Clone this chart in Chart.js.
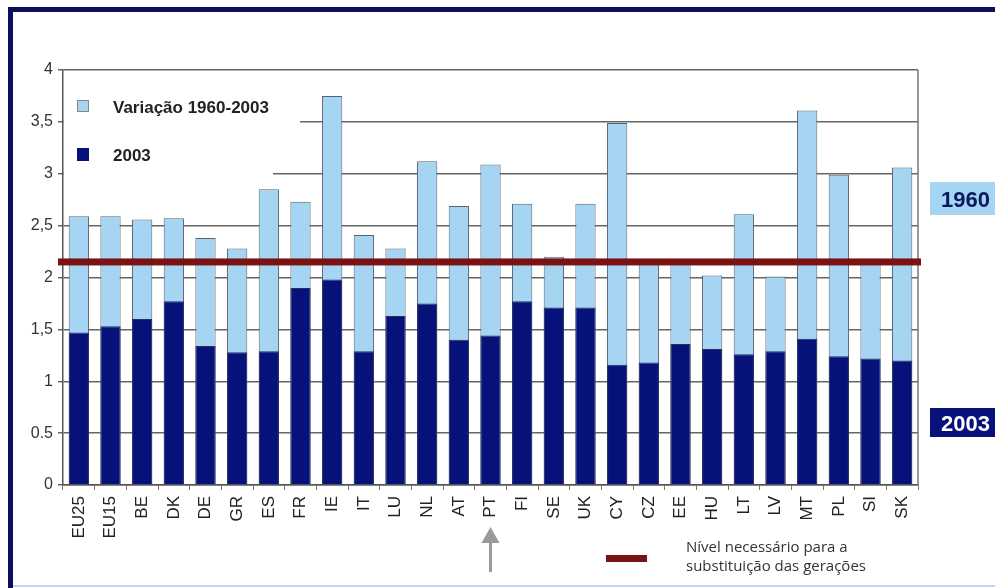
<!DOCTYPE html>
<html>
<head>
<meta charset="utf-8">
<script src="https://cdn.jsdelivr.net/npm/chart.js@4"></script>
<style>
  body { margin: 0; background: #fff; }
  canvas { display: block; }
</style>
</head>
<body>
<canvas id="tfr-chart" width="995" height="588"></canvas>
<script>
// Índice sintético de fecundidade, 1960 e 2003
const countries = ['EU25', 'EU15', 'BE', 'DK', 'DE', 'GR', 'ES', 'FR', 'IE', 'IT', 'LU', 'NL', 'AT', 'PT',
    'FI', 'SE', 'UK', 'CY', 'CZ', 'EE', 'HU', 'LT', 'LV', 'MT', 'PL', 'SI', 'SK'];
const values1960 = [2.59, 2.59, 2.56, 2.57, 2.38, 2.28, 2.85, 2.73, 3.75, 2.41, 2.28, 3.12, 2.69, 3.09,
    2.71, 2.20, 2.71, 3.49, 2.13, 2.13, 2.02, 2.61, 2.01, 3.61, 2.99, 2.18, 3.06];
const values2003 = [1.47, 1.53, 1.60, 1.77, 1.34, 1.28, 1.29, 1.90, 1.98, 1.29, 1.63, 1.75, 1.40, 1.44,
    1.77, 1.71, 1.71, 1.16, 1.18, 1.36, 1.31, 1.26, 1.29, 1.41, 1.24, 1.22, 1.20];
const replacementLevel = 2.15;
const yTickLabels = ['0', '0.5', '1', '1,5', '2', '2,5', '3', '3,5', '4'];

const lightBlue = '#a6d4f3';
const navy = '#06117a';
const darkRed = '#7a1414';
const fontFamily = "'Liberation Sans', Arial, sans-serif";

// moldura, legenda, linha de substituição e rótulos laterais
const decorations = {
    id: 'decorations',
    beforeDraw(chart) {
        const c = chart.ctx;
        c.save();
        c.fillStyle = '#0b0f5c';
        c.fillRect(8, 7, 987, 5);
        c.fillRect(8, 7, 5, 581);
        c.fillStyle = '#c9d0f2';
        c.fillRect(13, 585, 982, 2);
        c.restore();
    },
    beforeDatasetsDraw(chart) {
        const c = chart.ctx;
        const area = chart.chartArea;
        c.save();
        // caixa da legenda tapa a grelha
        c.fillStyle = '#fff';
        c.fillRect(area.left + 1, area.top + 2, 236, 80);
        c.fillRect(area.left + 1, area.top + 2, 209, 107);
        c.restore();
    },
    afterDatasetsDraw(chart) {
        const c = chart.ctx;
        const area = chart.chartArea;
        const y = chart.scales.y;
        const x = chart.scales.x;
        c.save();

        // borda direita da área do gráfico
        c.strokeStyle = '#777';
        c.lineWidth = 1.5;
        c.beginPath();
        c.moveTo(area.right, area.top);
        c.lineTo(area.right, area.bottom);
        c.stroke();

        // nível de substituição
        const ry = y.getPixelForValue(replacementLevel);
        c.fillStyle = darkRed;
        c.fillRect(area.left - 5, ry - 3.5, area.right - area.left + 8, 7);

        // legenda
        c.lineWidth = 1;
        c.strokeStyle = '#888';
        c.fillStyle = lightBlue;
        c.fillRect(77, 100, 12, 12);
        c.strokeRect(77.5, 100.5, 11, 11);
        c.fillStyle = navy;
        c.fillRect(77, 148, 12, 13);
        c.fillStyle = '#222';
        c.font = 'bold 17px ' + fontFamily;
        c.textBaseline = 'alphabetic';
        c.fillText('Variação 1960-2003', 113, 113);
        c.fillText('2003', 113, 161);

        // rótulos laterais
        c.fillStyle = lightBlue;
        c.fillRect(930, 182, 65, 33);
        c.fillStyle = navy;
        c.fillRect(930, 408, 65, 29);
        c.font = 'bold 22px ' + fontFamily;
        c.fillStyle = '#0b1a5e';
        c.fillText('1960', 941, 207);
        c.fillStyle = '#fff';
        c.fillText('2003', 941, 431);

        // seta sob PT
        const px = x.getPixelForValue(countries.indexOf('PT'));
        c.fillStyle = '#9a9a9a';
        c.beginPath();
        c.moveTo(px, 527);
        c.lineTo(px - 9, 543);
        c.lineTo(px + 9, 543);
        c.closePath();
        c.fill();
        c.fillRect(px - 1.5, 542, 3, 30);

        // legenda da linha
        c.fillStyle = darkRed;
        c.fillRect(606, 555, 41, 7);
        c.fillStyle = '#333';
        c.font = "15px 'Open Sans', sans-serif";
        c.fillText('Nível necessário para a', 686, 552);
        c.fillText('substituição das gerações', 686, 571);

        c.restore();
    }
};

const ctx = document.getElementById('tfr-chart').getContext('2d');

const myChart = new Chart(ctx, {
    type: 'bar',
    data: {
        labels: countries,
        datasets: [
            {
                label: '2003',
                data: values2003,
                backgroundColor: navy,
                borderColor: '#2a2f5a',
                borderWidth: 1,
                order: 0
            },
            {
                label: 'Variação 1960-2003',
                data: values1960,
                backgroundColor: lightBlue,
                borderColor: '#56646f',
                borderWidth: 1,
                order: 1
            }
        ]
    },
    options: {
        responsive: false,
        animation: false,
        devicePixelRatio: 1,
        layout: {
            padding: { top: 70, right: 77, bottom: 0, left: 0 }
        },
        datasets: {
            bar: {
                grouped: false,
                barPercentage: 0.64,
                categoryPercentage: 1
            }
        },
        plugins: {
            legend: { display: false },
            tooltip: { enabled: false }
        },
        scales: {
            x: {
                offset: true,
                afterFit(scale) { scale.height = 103; },
                grid: {
                    drawOnChartArea: false,
                    drawTicks: true,
                    tickLength: 5,
                    color: '#777'
                },
                border: { color: '#555', width: 1.5 },
                ticks: {
                    autoSkip: false,
                    minRotation: 90,
                    maxRotation: 90,
                    padding: 6,
                    color: '#222',
                    font: { family: fontFamily, size: 17 }
                }
            },
            y: {
                min: 0,
                max: 4,
                afterFit(scale) { scale.width = 63; },
                grid: {
                    color: '#666',
                    lineWidth: 1.5,
                    tickLength: 5
                },
                border: { color: '#555', width: 1.5 },
                ticks: {
                    stepSize: 0.5,
                    padding: 5,
                    color: '#333',
                    font: { family: fontFamily, size: 16 },
                    callback: function(value, index) {
                        return yTickLabels[index];
                    }
                }
            }
        }
    },
    plugins: [decorations]
});
</script>
</body>
</html>
